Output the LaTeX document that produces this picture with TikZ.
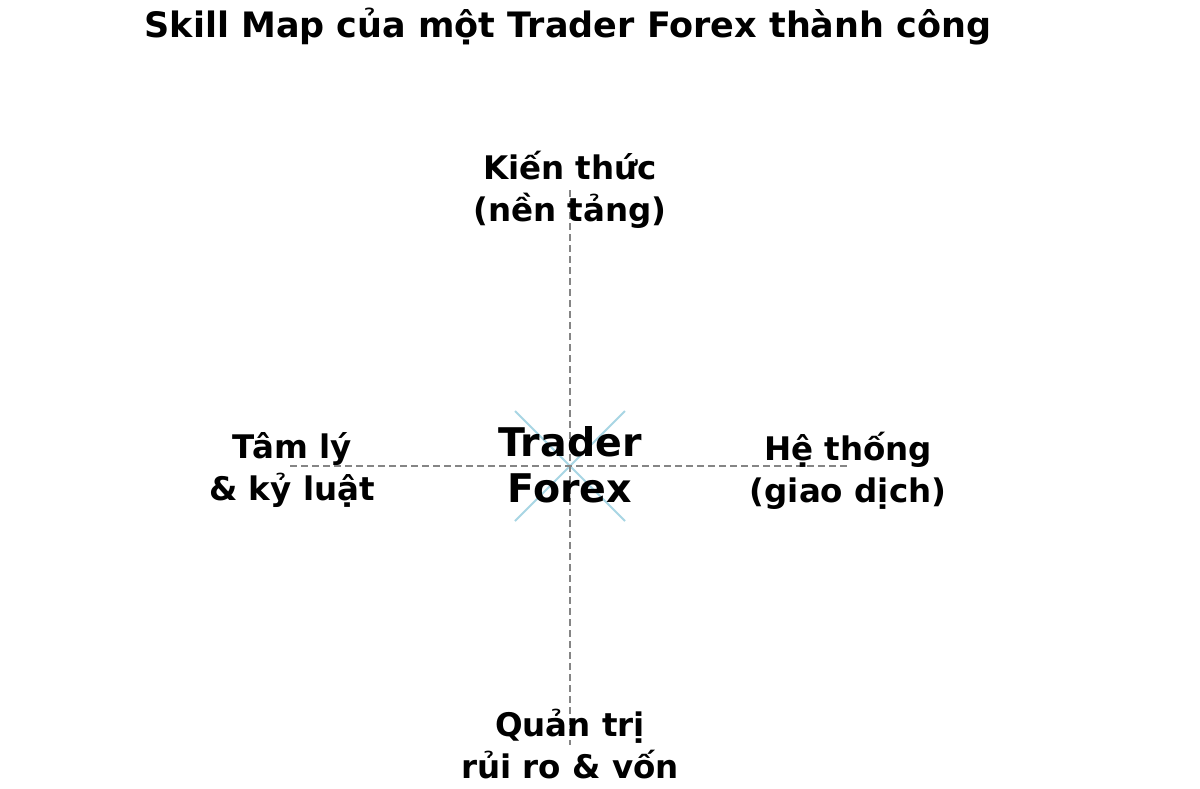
\documentclass[tikz,border=0pt]{standalone}
\usepackage{fontspec}
\setmainfont{DejaVu Sans}
\definecolor{xblue}{RGB}{168,214,228}
\begin{document}
\begin{tikzpicture}[x=1pt,y=-1pt,
  axis/.style={draw=black!48, line width=1.4pt, dash pattern=on 7pt off 4pt},
  xray/.style={draw=xblue, line width=1.8pt},
  lbl/.style={align=center, font=\fontsize{32.5}{42}\selectfont\bfseries, inner sep=0pt},
  ctr/.style={align=center, font=\fontsize{39.5}{46}\selectfont\bfseries, inner sep=0pt},
  ttl/.style={font=\fontsize{35}{40}\selectfont\bfseries, inner sep=0pt}]
\useasboundingbox[fill=white] (0,0) rectangle (1200,788);
\coordinate (o) at (570,466);
\coordinate (x1) at (515,411);
\coordinate (x2) at (625,521);
\coordinate (x3) at (625,411);
\coordinate (x4) at (515,521);
\coordinate (top) at (570,190);
\coordinate (bot) at (570,745);
\coordinate (lft) at (290,466);
\coordinate (rgt) at (850,466);
\draw[xray] (x1) -- (x2);
\draw[xray] (x3) -- (x4);
\draw[axis] (top) -- (bot);
\draw[axis] (lft) -- (rgt);
\node[ttl] (title) at (568,27) {Skill Map của một Trader Forex thành công};
\node[ctr] (c) at (570,465) {Trader\\Forex};
\node[lbl] (t) at (570,190) {Kiến thức\\(nền tảng)};
\node[lbl] (l) at (292,470) {Tâm lý\\\& kỷ luật};
\node[lbl] (r) at (848,471) {Hệ thống\\(giao dịch)};
\node[lbl] (b) at (570,744) {Quản trị\\rủi ro \& vốn};
\end{tikzpicture}
\end{document}
